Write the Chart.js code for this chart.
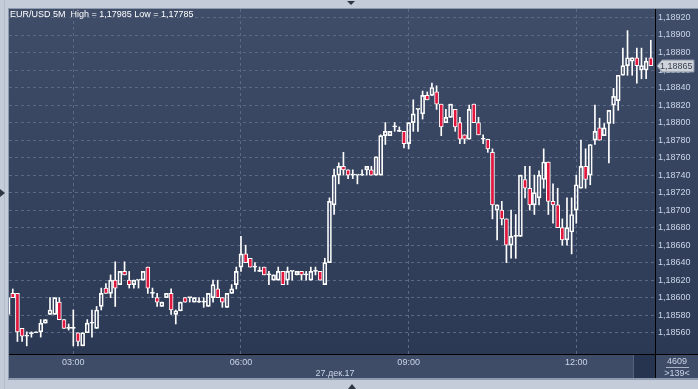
<!DOCTYPE html>
<html><head><meta charset="utf-8">
<script src="https://cdn.jsdelivr.net/npm/chart.js@4.4.1/dist/chart.umd.min.js"></script>
<style>html,body{margin:0;padding:0;background:#c3ccd8;overflow:hidden}canvas{display:block}</style>
</head><body>
<canvas id="c" width="698" height="389"></canvas>
<script>
const titleText = 'EUR/USD 5M  High = 1,17985 Low = 1,17785';
const dateLabel = '27.дек.17';
const startTime = '01:50';
const barMinutes = 5;
const lastPrice = 1.18865;
const barCountText = '4609';
const visibleText = '>139<';

const open = [
1.18581,1.18605,1.18605,1.18565,1.18556,1.18559,1.18560,1.18561,1.18571,1.18581,
1.18581,1.18595,1.18575,1.18565,1.18565,1.18560,1.18545,1.18560,1.18571,1.18565,
1.18590,1.18611,1.18605,1.18620,1.18615,1.18630,1.18620,1.18615,1.18620,1.18620,
1.18635,1.18605,1.18600,1.18590,1.18600,1.18605,1.18581,1.18585,1.18600,1.18600,
1.18595,1.18595,1.18595,1.18590,1.18600,1.18610,1.18600,1.18589,1.18605,1.18615,
1.18635,1.18650,1.18645,1.18635,1.18630,1.18635,1.18626,1.18620,1.18620,1.18630,
1.18620,1.18630,1.18626,1.18630,1.18626,1.18620,1.18630,1.18630,1.18615,1.18640,
1.18706,1.18740,1.18750,1.18746,1.18740,1.18740,1.18740,1.18746,1.18746,1.18740,
1.18740,1.18785,1.18785,1.18795,1.18790,1.18790,1.18776,1.18800,1.18815,1.18810,
1.18831,1.18831,1.18835,1.18821,1.18800,1.18806,1.18815,1.18800,1.18786,1.18781,
1.18821,1.18800,1.18781,1.18781,1.18766,1.18700,1.18700,1.18690,1.18660,1.18670,
1.18670,1.18735,1.18725,1.18706,1.18714,1.18735,1.18755,1.18710,1.18706,1.18680,
1.18666,1.18675,1.18700,1.18725,1.18750,1.18740,1.18780,1.18794,1.18785,1.18799,
1.18820,1.18825,1.18854,1.18865,1.18870,1.18874,1.18860,1.18860,1.18874];
const high = [
1.18601,1.18610,1.18605,1.18565,1.18561,1.18561,1.18561,1.18575,1.18575,1.18600,
1.18600,1.18600,1.18575,1.18570,1.18586,1.18560,1.18560,1.18575,1.18586,1.18590,
1.18611,1.18616,1.18626,1.18641,1.18630,1.18641,1.18630,1.18620,1.18620,1.18630,
1.18635,1.18611,1.18605,1.18595,1.18605,1.18610,1.18586,1.18595,1.18600,1.18600,
1.18600,1.18600,1.18600,1.18605,1.18620,1.18620,1.18600,1.18605,1.18615,1.18635,
1.18670,1.18660,1.18645,1.18640,1.18635,1.18635,1.18630,1.18626,1.18635,1.18630,
1.18635,1.18630,1.18630,1.18630,1.18630,1.18635,1.18635,1.18630,1.18645,1.18714,
1.18747,1.18754,1.18766,1.18746,1.18746,1.18740,1.18746,1.18750,1.18750,1.18761,
1.18786,1.18800,1.18790,1.18800,1.18795,1.18790,1.18800,1.18826,1.18815,1.18836,
1.18835,1.18845,1.18842,1.18821,1.18815,1.18821,1.18815,1.18806,1.18786,1.18820,
1.18821,1.18806,1.18786,1.18781,1.18770,1.18706,1.18710,1.18690,1.18700,1.18695,
1.18740,1.18750,1.18750,1.18740,1.18745,1.18770,1.18755,1.18730,1.18725,1.18690,
1.18714,1.18714,1.18740,1.18780,1.18770,1.18775,1.18820,1.18805,1.18799,1.18814,
1.18839,1.18854,1.18885,1.18905,1.18874,1.18885,1.18885,1.18874,1.18894];
const low = [
1.18580,1.18600,1.18550,1.18550,1.18545,1.18555,1.18560,1.18555,1.18571,1.18581,
1.18581,1.18575,1.18565,1.18563,1.18545,1.18545,1.18545,1.18560,1.18555,1.18565,
1.18586,1.18605,1.18600,1.18590,1.18615,1.18626,1.18611,1.18611,1.18611,1.18620,
1.18605,1.18600,1.18590,1.18590,1.18600,1.18581,1.18570,1.18585,1.18595,1.18595,
1.18595,1.18595,1.18589,1.18590,1.18595,1.18600,1.18589,1.18589,1.18605,1.18610,
1.18630,1.18640,1.18635,1.18630,1.18630,1.18626,1.18615,1.18620,1.18620,1.18615,
1.18615,1.18620,1.18626,1.18620,1.18620,1.18620,1.18626,1.18620,1.18615,1.18640,
1.18695,1.18730,1.18740,1.18736,1.18736,1.18730,1.18740,1.18740,1.18740,1.18740,
1.18740,1.18775,1.18785,1.18790,1.18790,1.18771,1.18770,1.18790,1.18790,1.18804,
1.18826,1.18831,1.18815,1.18785,1.18800,1.18806,1.18790,1.18776,1.18776,1.18781,
1.18800,1.18786,1.18776,1.18766,1.18690,1.18666,1.18683,1.18640,1.18645,1.18645,
1.18670,1.18714,1.18700,1.18695,1.18706,1.18725,1.18695,1.18685,1.18680,1.18660,
1.18660,1.18650,1.18685,1.18725,1.18725,1.18729,1.18775,1.18780,1.18785,1.18754,
1.18799,1.18814,1.18854,1.18854,1.18854,1.18845,1.18850,1.18850,1.18865];
const close = [
1.18600,1.18600,1.18561,1.18556,1.18557,1.18560,1.18560,1.18571,1.18575,1.18586,
1.18600,1.18575,1.18565,1.18566,1.18565,1.18550,1.18560,1.18571,1.18571,1.18586,
1.18605,1.18605,1.18620,1.18611,1.18630,1.18626,1.18615,1.18620,1.18620,1.18630,
1.18611,1.18605,1.18595,1.18595,1.18605,1.18586,1.18585,1.18595,1.18595,1.18600,
1.18600,1.18595,1.18595,1.18605,1.18615,1.18600,1.18595,1.18605,1.18610,1.18630,
1.18650,1.18640,1.18635,1.18635,1.18630,1.18626,1.18626,1.18626,1.18630,1.18615,
1.18630,1.18630,1.18630,1.18626,1.18626,1.18630,1.18630,1.18620,1.18640,1.18710,
1.18740,1.18750,1.18746,1.18740,1.18740,1.18740,1.18740,1.18750,1.18740,1.18761,
1.18785,1.18790,1.18790,1.18795,1.18790,1.18776,1.18800,1.18810,1.18815,1.18831,
1.18826,1.18840,1.18821,1.18795,1.18806,1.18821,1.18795,1.18781,1.18781,1.18815,
1.18800,1.18786,1.18781,1.18770,1.18706,1.18706,1.18690,1.18660,1.18670,1.18670,
1.18740,1.18725,1.18706,1.18720,1.18740,1.18755,1.18710,1.18706,1.18680,1.18666,
1.18680,1.18695,1.18729,1.18750,1.18735,1.18775,1.18790,1.18780,1.18794,1.18814,
1.18830,1.18854,1.18865,1.18874,1.18874,1.18865,1.18865,1.18870,1.18865];

const yTicks = [1.18560,1.18580,1.18600,1.18620,1.18640,1.18660,1.18680,1.18700,1.18720,
  1.18740,1.18760,1.18780,1.18800,1.18820,1.18840,1.18860,1.18880,1.18900,1.18920];

// time of each bar
const [sh, sm] = startTime.split(':').map(Number);
const times = open.map((_, i) => {
  const t = sh * 60 + sm + i * barMinutes;
  return String(Math.floor(t / 60) % 24).padStart(2, '0') + ':' + String(t % 60).padStart(2, '0');
});
const timeTickIdx = times.map((t, i) => (t.endsWith(':00') && Number(t.slice(0, 2)) % 3 === 0) ? i : -1).filter(i => i >= 0);

const fmt = v => v.toFixed(5).replace('.', ',');
const bodies = open.map((o, i) => ({x: i, y: [o, close[i]]}));
const upperWicks = open.map((o, i) => ({x: i, y: [Math.max(o, close[i]), high[i]]}));
const lowerWicks = open.map((o, i) => ({x: i, y: [low[i], Math.min(o, close[i])]}));
const bodyFill = open.map((o, i) => close[i] < o ? '#e3173e' : 'rgba(0,0,0,0)');

const FONT = '"Liberation Sans", Arial, sans-serif';
const AXIS_COL = '#cbd5e8';

const framePlugin = {
  id: 'frame',
  beforeDraw(chart) {
    const {ctx, chartArea: a, width: W, height: H} = chart;
    ctx.save();
    ctx.fillStyle = '#c3ccd8';
    ctx.fillRect(0, 0, W, H);
    ctx.fillStyle = '#b3bccb';
    ctx.fillRect(4, 0, 1, H);
    // window frame
    ctx.fillStyle = '#8e9aad';
    ctx.fillRect(a.left - 1, a.top - 1, W - a.left + 1, 379 - a.top + 2);
    const g = ctx.createLinearGradient(0, a.top, 0, a.bottom);
    g.addColorStop(0, '#3f4d69');
    g.addColorStop(1, '#2c3954');
    ctx.fillStyle = g;
    ctx.fillRect(a.left, a.top, W - a.left, a.bottom - a.top);
    // bottom band
    ctx.fillStyle = '#3e4c67';
    ctx.fillRect(a.left, a.bottom, W - a.left, 378 - a.bottom);
    // scroll thumb
    ctx.fillStyle = '#27344f';
    ctx.fillRect(634, a.bottom + 1, a.right - 634, 378 - a.bottom - 1);
    ctx.fillStyle = '#55627b';
    ctx.fillRect(633, a.bottom + 1, 1, 378 - a.bottom - 1);
    ctx.restore();
  },
  afterDraw(chart) {
    const {ctx, chartArea: a, width: W, scales} = chart;
    ctx.save();
    // separators
    ctx.fillStyle = '#000000';
    ctx.fillRect(a.right, a.top, 1, 378 - a.top);
    ctx.fillRect(a.left, a.bottom, W - a.left, 1);
    // title
    ctx.fillStyle = '#ffffff';
    ctx.font = '9px ' + FONT;
    ctx.textBaseline = 'middle';
    ctx.textAlign = 'left';
    ctx.fillText(titleText, 10, 15);
    // date
    ctx.fillStyle = AXIS_COL;
    ctx.textAlign = 'center';
    ctx.fillText(dateLabel, 335, 373.5);
    // bar count box
    ctx.fillText(barCountText, 677, 362);
    ctx.fillText(visibleText, 677, 374);
    ctx.fillStyle = '#aab4c8';
    ctx.fillRect(666, 367, 23, 1);
    // price marker
    const py = Math.round(scales.y.getPixelForValue(lastPrice));
    ctx.fillStyle = '#cfd3da';
    ctx.strokeStyle = '#8a93a3';
    ctx.beginPath();
    ctx.moveTo(a.right + 2, py);
    ctx.lineTo(a.right + 7, py - 6);
    ctx.lineTo(694, py - 6);
    ctx.lineTo(694, py + 6);
    ctx.lineTo(a.right + 7, py + 6);
    ctx.closePath();
    ctx.fill();
    ctx.stroke();
    ctx.fillStyle = '#3b4252';
    ctx.textAlign = 'left';
    ctx.fillText(fmt(lastPrice), a.right + 5, py + 0.5);
    // small triangles
    ctx.fillStyle = '#2e3644';
    ctx.beginPath(); ctx.moveTo(0, 189); ctx.lineTo(5, 193); ctx.lineTo(0, 197); ctx.closePath(); ctx.fill();
    ctx.beginPath(); ctx.moveTo(347, 1); ctx.lineTo(355, 1); ctx.lineTo(351, 5); ctx.closePath(); ctx.fill();
    ctx.beginPath(); ctx.moveTo(348, 389); ctx.lineTo(356, 389); ctx.lineTo(352, 384); ctx.closePath(); ctx.fill();
    ctx.restore();
  }
};

Chart.defaults.font.family = FONT;
Chart.defaults.font.size = 9;

new Chart(document.getElementById('c'), {
  type: 'bar',
  data: {
    datasets: [
      {data: upperWicks, backgroundColor: '#ffffff', borderWidth: 0, barThickness: 1, order: 2},
      {data: lowerWicks, backgroundColor: '#ffffff', borderWidth: 0, barThickness: 1, order: 2},
      {data: bodies, backgroundColor: bodyFill, borderColor: '#ffffff', borderWidth: 1,
        borderSkipped: false, barThickness: 4, minBarLength: 1, order: 1}
    ]
  },
  options: {
    responsive: false,
    animation: false,
    devicePixelRatio: 1,
    grouped: false,
    layout: {padding: {left: 9, top: 9, right: 0, bottom: 0}},
    plugins: {legend: {display: false}, tooltip: {enabled: false}},
    scales: {
      x: {
        type: 'linear',
        min: 0.19, max: 138.9,
        offset: false,
        grid: {color: '#5b6985', lineWidth: 1, drawTicks: false, tickLength: 0, offset: false},
        border: {display: false, dash: [3, 3]},
        afterBuildTicks: s => { s.ticks = timeTickIdx.map(v => ({value: v})); },
        afterFit: s => { s.height = 35; },
        ticks: {color: AXIS_COL, padding: 3, autoSkip: false, maxRotation: 0,
          callback: v => times[v] || ''}
      },
      y: {
        type: 'linear',
        position: 'right',
        min: 1.185357, max: 1.189297,
        grid: {color: '#5b6985', lineWidth: 1, drawTicks: false, tickLength: 0},
        border: {display: false, dash: [3, 3]},
        afterBuildTicks: s => { s.ticks = yTicks.map(v => ({value: v})); },
        afterFit: s => { s.width = 43; },
        ticks: {color: AXIS_COL, padding: 3, callback: v => fmt(v)}
      }
    }
  },
  plugins: [framePlugin]
});
</script>
</body></html>
